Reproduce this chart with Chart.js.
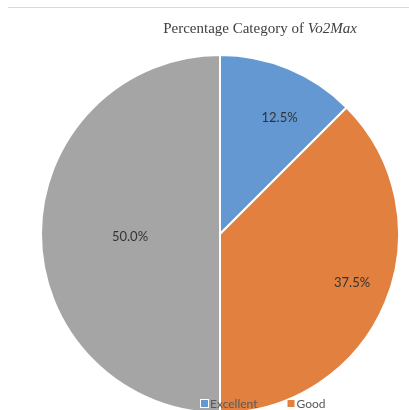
<!DOCTYPE html>
<html><head><meta charset="utf-8">
<script src="https://cdn.jsdelivr.net/npm/chart.js@4"></script>
<style>html,body{margin:0;padding:0;background:#fff;overflow:hidden}#wrap{position:relative;width:409px;height:410px}</style>
</head><body><div id="wrap"><canvas id="c"></canvas></div>
<script>
const categories = ['Excellent', 'Good', 'Poor'];
const percentages = [12.5, 37.5, 50.0];
const colors = ['#6398D2', '#E2813F', '#A5A5A5'];
const titleParts = [{text: 'Percentage Category of ', italic: false}, {text: 'Vo2Max', italic: true}];
const labelRadiusFractions = [0.728, 0.787, 0.503];
const labelAngleOffsetsDeg = [4.7, -2.1, -2.0];

const overlay = {
  id: 'overlay',
  afterDraw(chart) {
    const ctx = chart.ctx;
    ctx.save();
    // top rule
    ctx.strokeStyle = '#d9d9d9';
    ctx.lineWidth = 1;
    ctx.beginPath(); ctx.moveTo(8, 7.5); ctx.lineTo(409, 7.5); ctx.stroke();

    // title (mixed roman / italic)
    const fs = 15;
    const fonts = titleParts.map(p => (p.italic ? 'italic ' : '') + fs + 'px "Liberation Serif", "Times New Roman", serif');
    let total = 0;
    titleParts.forEach((p, i) => { ctx.font = fonts[i]; total += ctx.measureText(p.text).width; });
    let tx = 260 - total / 2;
    ctx.fillStyle = '#404040';
    ctx.textBaseline = 'alphabetic';
    ctx.textAlign = 'left';
    titleParts.forEach((p, i) => { ctx.font = fonts[i]; ctx.fillText(p.text, tx, 33); tx += ctx.measureText(p.text).width; });

    // data labels
    const meta = chart.getDatasetMeta(0);
    ctx.font = '13px Lato, "Open Sans", sans-serif';
    ctx.fillStyle = '#333333';
    ctx.textAlign = 'center';
    ctx.textBaseline = 'middle';
    meta.data.forEach((arc, i) => {
      const p = arc.getProps(['x', 'y', 'startAngle', 'endAngle', 'outerRadius'], true);
      const mid = (p.startAngle + p.endAngle) / 2 + labelAngleOffsetsDeg[i] * Math.PI / 180;
      const r = p.outerRadius * labelRadiusFractions[i];
      ctx.fillText(percentages[i].toFixed(1) + '%', p.x + Math.cos(mid) * r, p.y + Math.sin(mid) * r);
    });

    // legend (wraps; later rows fall outside the canvas)
    ctx.font = '12px Lato, "Open Sans", sans-serif';
    ctx.textAlign = 'left';
    ctx.textBaseline = 'middle';
    let lx = 201, ly = 403.5;
    const maxX = 345;
    categories.forEach((c, i) => {
      const w = 9 + ctx.measureText(c).width;
      if (lx + w > maxX && i > 0) { lx = 201; ly += 15; }
      ctx.fillStyle = '#ffffff';
      ctx.fillRect(lx - 1, ly - 4.5, 9, 9);
      ctx.fillStyle = colors[i];
      ctx.fillRect(lx, ly - 3.5, 7, 7);
      ctx.fillStyle = '#595959';
      ctx.fillText(c, lx + 9, ly + 0.5);
      lx += w + 30;
    });
    ctx.restore();
  }
};

new Chart(document.getElementById('c'), {
  type: 'pie',
  data: {
    labels: categories,
    datasets: [{
      data: percentages,
      backgroundColor: colors,
      borderColor: '#ffffff',
      borderWidth: 2,
      radius: 179
    }]
  },
  options: {
    responsive: true,
    maintainAspectRatio: false,
    animation: false,
    layout: {padding: {left: 31, right: 0, top: 58, bottom: 0}},
    plugins: {legend: {display: false}, title: {display: false}, tooltip: {enabled: false}}
  },
  plugins: [overlay]
});
</script></body></html>
